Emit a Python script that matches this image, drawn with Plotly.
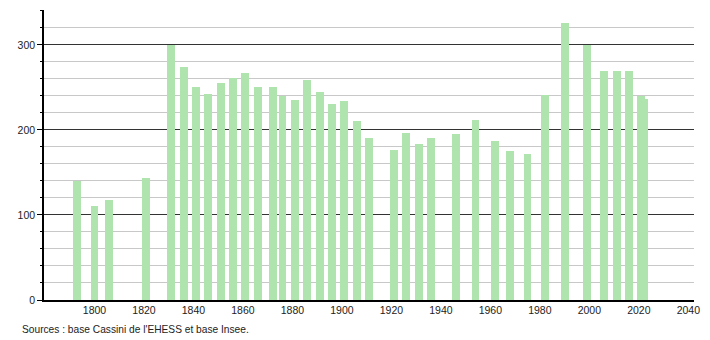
import plotly.graph_objects as go

years = [1793, 1800, 1806, 1821, 1831, 1836, 1841, 1846, 1851, 1856, 1861, 1866,
         1872, 1876, 1881, 1886, 1891, 1896, 1901, 1906, 1911, 1921, 1926, 1931,
         1936, 1946, 1954, 1962, 1968, 1975, 1982, 1990, 1999, 2006, 2011, 2016,
         2021, 2022]
population = [140, 111, 118, 144, 300, 274, 251, 242, 255, 261, 267, 250,
              250, 240, 235, 259, 245, 231, 234, 211, 190, 176, 196, 184,
              190, 195, 212, 187, 175, 172, 241, 326, 300, 269, 269, 269,
              240, 236]
x_ticks = [1800, 1820, 1840, 1860, 1880, 1900, 1920, 1940, 1960, 1980, 2000, 2020, 2040]
y_ticks = [0, 100, 200, 300]
source_text = "Sources : base Cassini de l'EHESS et base Insee."

FONT = "Liberation Sans, Arial, sans-serif"

fig = go.Figure()
fig.add_trace(go.Bar(
    x=years, y=population, width=3.2,
    marker=dict(color="#afe4ae", line=dict(width=0)),
    hoverinfo="x+y",
))

fig.update_layout(
    width=710, height=340,
    margin=dict(l=44, r=10, t=10, b=40),
    paper_bgcolor="white", plot_bgcolor="white",
    showlegend=False,
    font=dict(family=FONT, size=11, color="#222"),
    xaxis=dict(
        range=[1779.6, 2042.3],
        tickvals=x_ticks, ticktext=[str(v) for v in x_ticks],
        showgrid=False, zeroline=False,
        showline=True, linecolor="#000", linewidth=1.5,
        ticks="", ticklen=0,
        tickfont=dict(family=FONT, size=10.5, color="#222"),
    ),
    yaxis=dict(
        range=[0, 341],
        tickvals=y_ticks,
        showgrid=True, gridcolor="#333", gridwidth=1,
        zeroline=False,
        showline=True, linecolor="#000", linewidth=1.5,
        ticks="outside", ticklen=5, tickcolor="#000", tickwidth=1,
        tickfont=dict(family=FONT, size=10.5, color="#222"),
        minor=dict(dtick=20, tick0=0, showgrid=True, gridcolor="#c8c8c8", gridwidth=1,
                   ticks="outside", ticklen=2, tickcolor="#000"),
        layer="below traces",
    ),
    bargap=0,
)

fig.add_annotation(
    text=source_text, xref="paper", yref="paper",
    x=-24/656, y=-29/290, xanchor="left", yanchor="middle",
    showarrow=False, font=dict(family=FONT, size=10.2, color="#222"),
)

fig.write_html("out.html")
